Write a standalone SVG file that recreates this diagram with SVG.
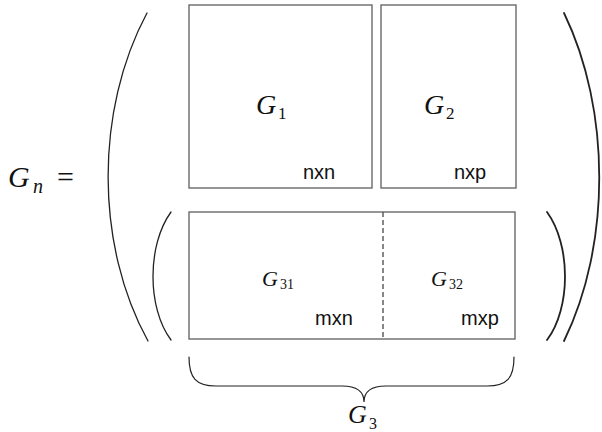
<svg xmlns="http://www.w3.org/2000/svg" width="602" height="432" viewBox="0 0 602 432">
<style>
.box{fill:none;stroke:#6a6a6a;stroke-width:1.4}
.paren{fill:none;stroke:#222;stroke-linecap:round}
.g{font-family:"Liberation Serif","Times New Roman",serif;font-style:italic;fill:#111}
.sub{font-family:"Liberation Serif","Times New Roman",serif;fill:#111}
.dim{font-family:"Liberation Sans",Arial,sans-serif;font-size:20px;fill:#111}
</style>
<rect width="602" height="432" fill="#fff"/>
<g id="lhs">
<text class="g" x="8" y="187" font-size="30">G</text>
<text class="g" x="33" y="193" font-size="20">n</text>
<text class="sub" x="57" y="187" font-size="30">=</text>
</g>
<g id="parens">
<path class="paren" stroke-width="1.3" d="M147,13 C95,110 95,245 148,341"/>
<path class="paren" stroke-width="1.8" d="M564,13 C611,110 611,245 564,341"/>
<path class="paren" stroke-width="1.3" d="M171,212 C147,245 147,308 171,340"/>
<path class="paren" stroke-width="1.8" d="M547,212 C571,245 571,308 547,340"/>
</g>
<g id="G1">
<rect class="box" x="189" y="5" width="183" height="183"/>
<text class="g" x="256" y="114" font-size="28">G</text>
<text class="sub" x="278" y="119" font-size="17">1</text>
<text class="dim" x="303" y="179">nxn</text>
</g>
<g id="G2">
<rect class="box" x="381" y="5" width="135" height="183"/>
<text class="g" x="424" y="114" font-size="28">G</text>
<text class="sub" x="446" y="119" font-size="17">2</text>
<text class="dim" x="454" y="179">nxp</text>
</g>
<g id="G3block">
<rect class="box" x="189" y="212" width="326" height="127"/>
<line x1="383" y1="212" x2="383" y2="339" stroke="#555" stroke-width="1.4" stroke-dasharray="5,3"/>
</g>
<g id="G31">
<text class="g" x="262" y="286" font-size="22">G</text>
<text class="sub" x="280" y="289" font-size="14">31</text>
<text class="dim" x="315" y="325">mxn</text>
</g>
<g id="G32">
<text class="g" x="431" y="286" font-size="22">G</text>
<text class="sub" x="449" y="289" font-size="14">32</text>
<text class="dim" x="461" y="325">mxp</text>
</g>
<g id="brace">
<path class="paren" stroke="#444" stroke-width="1.2" d="M189,357 C189,378 196,386 216,386 L342,386 C357,386 364,392 364,402 C364,392 371,386 386,386 L487,386 C507,386 514,378 514,357"/>
<text class="g" x="348" y="423" font-size="26">G</text>
<text class="sub" x="369" y="429" font-size="16">3</text>
</g>
</svg>
